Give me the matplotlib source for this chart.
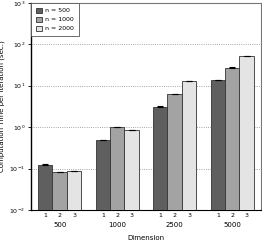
import numpy as np
import matplotlib
matplotlib.use('Agg')
import matplotlib.pyplot as plt

dims = ['500', '1000', '2500', '5000']
series = ['n = 500', 'n = 1000', 'n = 2000']
t_500 = [0.123, 0.49, 3.1, 13.8]
t_1000 = [0.083, 1.0, 6.3, 27.0]
t_2000 = [0.087, 0.85, 13.0, 52.0]
colors = ['#5f5f5f', '#a3a3a3', '#e4e4e4']

plt.rcParams['font.family'] = 'DejaVu Sans'
fig = plt.figure(figsize=(2.62, 2.41), dpi=100)
ax = fig.add_axes([0.118, 0.129, 0.878, 0.859])

x = np.arange(len(dims))
w = 0.25
for i, (vals, c, lab) in enumerate(zip([t_500, t_1000, t_2000], colors, series)):
    pos = x + (i - 1) * w
    ax.bar(pos, vals, w, color=c, edgecolor='#333333', linewidth=0.6, label=lab, zorder=3)
    ax.errorbar(pos, vals, yerr=np.array(vals) * 0.02, fmt='none', ecolor='black',
                elinewidth=0.6, capsize=2.5, capthick=0.8, zorder=4)

ax.set_yscale('log')
ax.set_ylim(1e-2, 1e3)
ax.set_xlim(-0.5, 3.5)
ax.yaxis.grid(True, which='major', linestyle=':', color='#888888', linewidth=0.6, zorder=0)
ax.minorticks_off()
ax.tick_params(axis='y', labelsize=4.5, length=2.5, width=0.6, pad=1.5)

ticks = np.concatenate([x + (i - 1) * w for i in range(3)])
ax.set_xticks(np.sort(ticks))
ax.set_xticklabels(['1', '2', '3'] * len(dims), fontsize=4.5)
ax.tick_params(axis='x', length=0, pad=2)
for xi, d in zip(x, dims):
    ax.text(xi, -0.075, d, transform=ax.get_xaxis_transform(), ha='center', va='center', fontsize=5)

ax.text(0.5, -0.135, 'Dimension', transform=ax.transAxes, ha='center', va='center', fontsize=5)
ax.set_ylabel('Computation Time per Iteration (sec.)', fontsize=5, labelpad=3)

for s in ax.spines.values():
    s.set_linewidth(0.8)
    s.set_color('#777777')
ax.spines['left'].set_color('black')
ax.spines['bottom'].set_color('black')
ax.spines['left'].set_linewidth(1.0)

leg = ax.legend(loc='upper left', fontsize=4.5, fancybox=False, edgecolor='#555555',
                framealpha=1, borderaxespad=0, handlelength=0.9, handleheight=0.8,
                borderpad=0.8, labelspacing=0.55, handletextpad=0.6)
leg.get_frame().set_linewidth(0.6)

fig.savefig('out.png', dpi=100)
